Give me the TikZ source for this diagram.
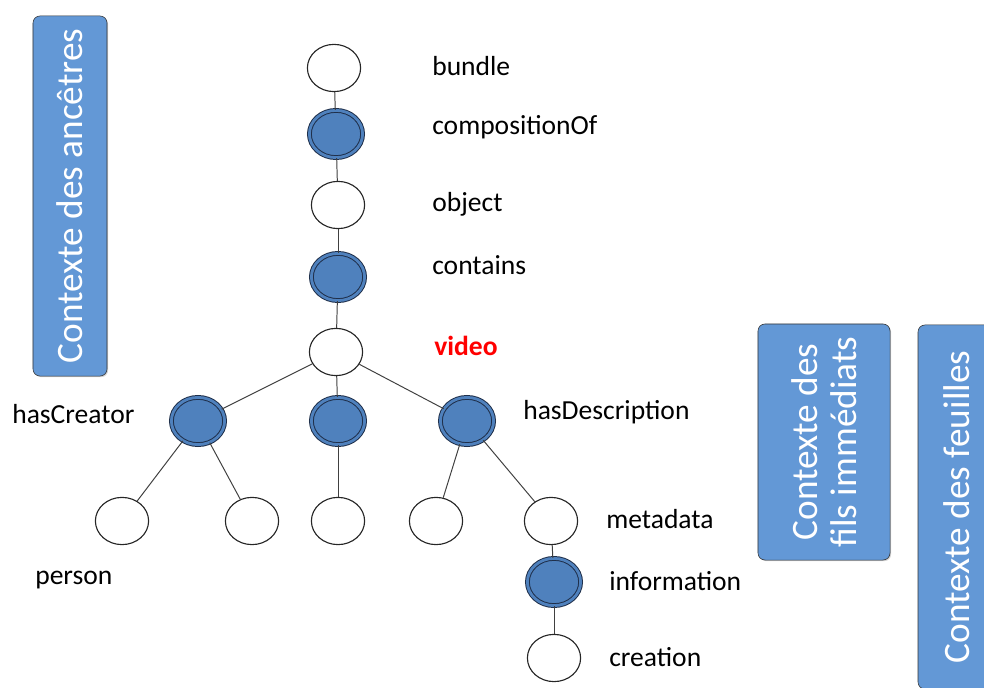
\documentclass[tikz,border=0pt]{standalone}
\usepackage{fontspec}
\setmainfont{Carlito}
\usetikzlibrary{shapes.geometric, shadows, positioning}
\definecolor{relblue}{HTML}{4F81BD}
\definecolor{ctxblue}{HTML}{6398D6}
\definecolor{ringdark}{HTML}{1F2F4A}

\begin{document}
\begin{tikzpicture}[
        x=0.025cm, y=-0.025cm,
        leaf/.style={draw=black!85, ellipse, fill=white, minimum width=1.33cm, minimum height=1.18cm, inner sep=0pt, line width=0.8pt},
        rel/.style={leaf, draw=ringdark, fill=relblue, double=relblue, double distance=2pt, line width=0.7pt},
        lbl/.style={anchor=west, inner sep=0pt, font=\fontsize{19.6}{22}\selectfont},
        ctx/.style={draw=black!80, rounded corners=5pt, fill=ctxblue, text=white, rotate=90, align=center, inner sep=2pt, font=\fontsize{26.5}{28}\selectfont, drop shadow={opacity=0.35, shadow xshift=0.8pt, shadow yshift=-0.8pt}},
        edge/.style={draw=black!75, line width=0.7pt}
    ]
        \useasboundingbox (0,0) rectangle (984,688);
        % tree nodes
        \node[leaf] (bundle) at (334, 68) {};
        \node[rel] (compOf) at (336, 134) {};
        \node[leaf] (object) at (338, 205) {};
        \node[rel] (contains) at (338, 277) {};
        \node[leaf] (video) at (336, 352) {};
        \node[rel] (creator) at (198, 421) {};
        \node[rel] (mid) at (338, 421) {};
        \node[rel] (descr) at (467, 421) {};
        \node[leaf] (personA) at (122, 521) {};
        \node[leaf] (personB) at (252, 521) {};
        \node[leaf] (midleaf) at (338, 521) {};
        \node[leaf] (descrleaf) at (436, 521) {};
        \node[leaf] (metadata) at (551, 521) {};
        \node[rel] (information) at (554, 582) {};
        \node[leaf] (creation) at (554, 658) {};
        % labels
        \node[lbl] (lbundle) at (432, 66) {bundle};
        \node[lbl] (lcompOf) at (432, 127) {compositionOf};
        \node[lbl] (lobject) at (432, 204) {object};
        \node[lbl] (lcontains) at (432, 265) {contains};
        \node[lbl, text=red, font=\fontsize{19.6}{22}\selectfont\bfseries] (lvideo) at (434, 346) {video};
        \node[lbl] (lcreator) at (12, 414) {hasCreator};
        \node[lbl] (ldescr) at (523, 412) {hasDescription};
        \node[lbl] (lmetadata) at (606, 519) {metadata};
        \node[lbl] (lperson) at (35, 580) {person};
        \node[lbl] (linformation) at (609, 581) {information};
        \node[lbl] (lcreation) at (609, 657) {creation};
        % context boxes
        \node[ctx, minimum width=9.0cm, minimum height=1.85cm] (ancestors) at (70, 196) {Contexte des ancêtres};
        \node[ctx, minimum width=5.9cm, minimum height=3.3cm] (children) at (824, 442) {Contexte des\\fils immédiats};
        \node[ctx, minimum width=9.1cm, minimum height=1.95cm] (leaves) at (957, 507) {Contexte des feuilles};
        % edges
        \draw[edge] (bundle) -- (compOf);
        \draw[edge] (compOf) -- (object);
        \draw[edge] (object) -- (contains);
        \draw[edge] (contains) -- (video);
        \draw[edge] (video) -- (creator);
        \draw[edge] (video) -- (mid);
        \draw[edge] (video) -- (descr);
        \draw[edge] (creator) -- (personA);
        \draw[edge] (creator) -- (personB);
        \draw[edge] (mid) -- (midleaf);
        \draw[edge] (descr) -- (descrleaf);
        \draw[edge] (descr) -- (metadata);
        \draw[edge] (metadata) -- (information);
        \draw[edge] (information) -- (creation);
    \end{tikzpicture}
\end{document}
